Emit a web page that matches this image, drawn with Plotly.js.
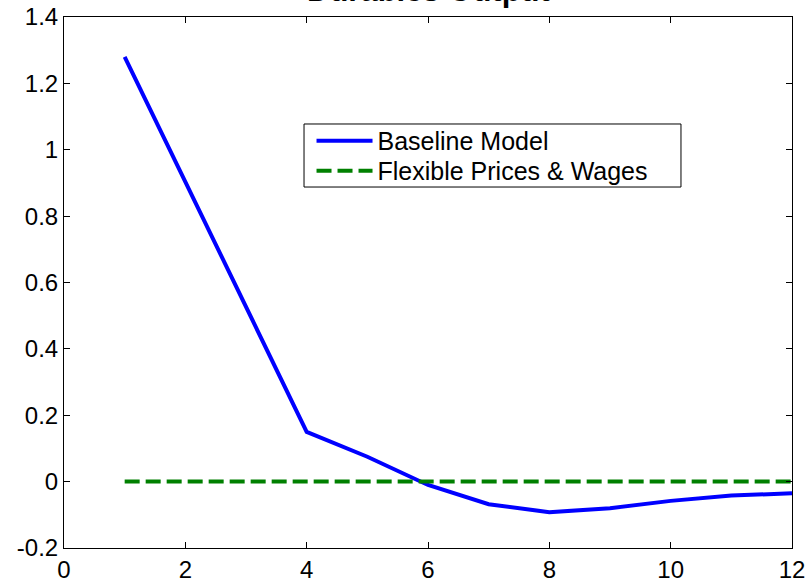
<!DOCTYPE html>
<html>
<head>
<meta charset="utf-8">
<script src="https://cdn.plot.ly/plotly-3.0.1.min.js"></script>
<style>html,body{margin:0;padding:0;background:#fff;}#chart{width:810px;height:586px;}</style>
</head>
<body>
<div id="chart"></div>
<script>
const periods = [1, 2, 3, 4, 5, 6, 7, 8, 9, 10, 11, 12];
const baselineModel = [1.28, 0.905, 0.525, 0.15, 0.075, -0.01, -0.068, -0.092, -0.080, -0.058, -0.042, -0.035];
const flexiblePricesWages = [0, 0, 0, 0, 0, 0, 0, 0, 0, 0, 0, 0];
const xTicks = [0, 2, 4, 6, 8, 10, 12];
const yTicks = [-0.2, 0, 0.2, 0.4, 0.6, 0.8, 1, 1.2, 1.4];
const yTickText = ['-0.2', '0', '0.2', '0.4', '0.6', '0.8', '1', '1.2', '1.4'];
const chartTitle = 'Durables Output';

const FONT = 'Liberation Sans, Arial, Helvetica, sans-serif';

const traces = [
  {x: periods, y: baselineModel, type: 'scatter', mode: 'lines', name: 'Baseline Model',
   legend: 'legend', line: {color: '#0000ff', width: 4}},
  {x: periods, y: flexiblePricesWages, type: 'scatter', mode: 'lines', name: 'Flexible Prices & Wages',
   legend: 'legend2', line: {color: '#008000', width: 4, dash: '15px,6px'}}
];

const axisCommon = {
  showgrid: false, zeroline: false, showline: true, linecolor: '#000', linewidth: 1,
  mirror: 'ticks', ticks: 'inside', ticklen: 6, tickcolor: '#000',
  tickfont: {family: FONT, size: 24, color: '#000'}
};

const legendCommon = {
  xanchor: 'left', yanchor: 'middle', bgcolor: 'rgba(0,0,0,0)', borderwidth: 0,
  itemwidth: 56, font: {family: FONT, size: 25, color: '#000'}
};

const layout = {
  width: 810, height: 586,
  margin: {l: 64, r: 18, t: 17, b: 38},
  paper_bgcolor: '#fff', plot_bgcolor: '#fff',
  annotations: [{
    text: '<b>' + chartTitle + '</b>', xref: 'paper', yref: 'paper', x: 0.5, y: 1.0132,
    xanchor: 'center', yanchor: 'bottom', showarrow: false,
    font: {family: FONT, size: 31, color: '#000'}
  }],
  shapes: [{
    type: 'rect', xref: 'paper', yref: 'paper', x0: 0.3297, x1: 0.8475, y0: 0.6798, y1: 0.7985,
    line: {color: '#000', width: 1}, fillcolor: '#fff', layer: 'above'
  }],
  xaxis: Object.assign({}, axisCommon, {range: [0, 12], tickvals: xTicks, ticktext: xTicks.map(String)}),
  yaxis: Object.assign({}, axisCommon, {range: [-0.2, 1.4], tickvals: yTicks, ticktext: yTickText}),
  showlegend: true,
  legend: Object.assign({}, legendCommon, {x: 0.340, y: 0.7665}),
  legend2: Object.assign({}, legendCommon, {x: 0.340, y: 0.7100})
};

Plotly.newPlot('chart', traces, layout, {displayModeBar: false, staticPlot: true});
</script>
</body>
</html>
